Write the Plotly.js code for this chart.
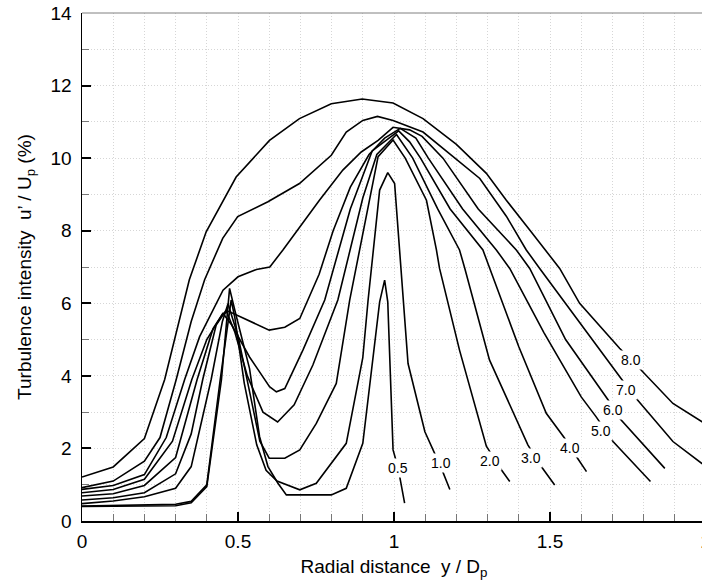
<!DOCTYPE html>
<html>
<head>
<meta charset="utf-8">
<script src="https://cdn.plot.ly/plotly-3.0.1.min.js"></script>
<style>
html,body{margin:0;padding:0;overflow:hidden;background:#fff;width:702px;height:582px;}
#chart{width:740px;height:582px;}
</style>
</head>
<body>
<div id="chart"></div>
<script>
// Curve labels (axial stations)
const curveLabels = ['0.5','1.0','2.0','3.0','4.0','5.0','6.0','7.0','8.0'];

// Curve 0.5
const x05 = [0,0.1,0.2,0.3,0.35,0.40,0.447,0.473,0.49,0.537,0.569,0.596,0.628,0.655,0.70,0.799,0.847,0.90,0.954,0.970,0.980,0.997,1.013,1.034];
const y05 = [0.40,0.41,0.41,0.42,0.50,0.95,3.9,6.41,5.8,4.2,2.33,1.5,1.04,0.72,0.72,0.72,0.9,2.14,6.04,6.64,6.04,1.96,1.47,0.49];
// Curve 1.0
const x10 = [0,0.1,0.2,0.3,0.35,0.40,0.443,0.478,0.49,0.52,0.56,0.59,0.625,0.664,0.698,0.751,0.847,0.90,0.917,0.954,0.98,1.002,1.029,1.045,1.099,1.13,1.152,1.179];
const y10 = [0.41,0.43,0.44,0.46,0.54,1.0,3.9,6.09,5.6,3.8,2.1,1.4,1.1,0.96,0.86,1.04,2.14,4.5,6.09,9.12,9.6,9.3,6.09,4.34,2.46,1.87,1.45,0.87];
// Curve 2.0
const x20 = [0,0.1,0.2,0.3,0.35,0.414,0.45,0.468,0.50,0.54,0.57,0.60,0.65,0.698,0.751,0.815,0.858,0.949,0.997,1.036,1.104,1.136,1.146,1.21,1.296,1.344,1.371];
const y20 = [0.48,0.55,0.67,0.9,1.5,3.9,5.5,5.99,5.1,3.4,2.2,1.73,1.73,1.96,2.69,3.79,6.09,10.04,10.5,10.0,8.84,7.47,6.96,4.71,2.06,1.41,1.09];
// Curve 3.0
const x30 = [0,0.1,0.2,0.3,0.35,0.387,0.43,0.462,0.49,0.53,0.58,0.627,0.68,0.74,0.82,0.90,0.945,1.008,1.06,1.14,1.21,1.227,1.306,1.429,1.472,1.515];
const y30 = [0.58,0.64,0.78,1.3,2.4,3.9,5.4,5.81,5.2,4.0,3.0,2.73,3.2,4.3,6.09,8.9,10.1,10.65,10.0,8.6,7.47,6.96,4.44,2.1,1.5,0.99];
// Curve 4.0
const x40 = [0,0.1,0.2,0.3,0.369,0.42,0.452,0.48,0.537,0.601,0.623,0.65,0.708,0.778,0.86,0.93,1.015,1.05,1.085,1.18,1.285,1.307,1.40,1.488,1.547,1.585,1.617];
const y40 = [0.69,0.75,0.98,1.75,3.9,5.3,5.72,5.4,4.52,3.7,3.56,3.65,4.71,6.09,8.6,10.2,10.75,10.45,10.0,8.6,7.47,6.96,4.8,2.97,2.28,1.77,1.36];
// Curve 5.0
const x50 = [0,0.1,0.2,0.29,0.352,0.40,0.45,0.47,0.60,0.65,0.698,0.76,0.805,0.86,0.92,0.97,1.02,1.07,1.11,1.22,1.328,1.371,1.48,1.60,1.648,1.702,1.822];
const y50 = [0.78,0.87,1.15,2.2,3.9,5.0,5.7,5.78,5.26,5.34,5.58,6.8,8.0,9.2,10.1,10.55,10.82,10.55,10.0,8.6,7.47,6.96,5.2,3.42,2.87,2.19,1.09];
// Curve 6.0
const x60 = [0,0.1,0.2,0.27,0.329,0.377,0.452,0.50,0.559,0.602,0.644,0.698,0.761,0.836,0.895,0.949,0.997,1.05,1.09,1.157,1.27,1.392,1.435,1.55,1.687,1.723,1.868];
const y60 = [0.87,0.98,1.28,2.3,3.9,5.08,6.36,6.73,6.93,7.0,7.47,8.1,8.84,9.67,10.17,10.49,10.85,10.78,10.6,10.0,8.6,7.47,6.96,5.0,3.33,2.83,1.45];
// Curve 7.0
const x70 = [0,0.1,0.2,0.25,0.302,0.35,0.393,0.451,0.499,0.596,0.697,0.799,0.847,0.90,0.947,0.997,1.093,1.194,1.275,1.36,1.424,1.467,1.60,1.723,1.771,1.894,1.986,2.0];
const y70 = [0.92,1.10,1.65,2.3,3.9,5.5,6.65,7.79,8.39,8.80,9.30,10.08,10.72,11.04,11.15,11.04,10.72,10.0,9.44,8.4,7.47,6.96,5.4,3.98,3.43,2.19,1.59,1.52];
// Curve 8.0
const x80 = [0,0.1,0.2,0.265,0.344,0.398,0.494,0.601,0.697,0.799,0.898,0.997,1.093,1.2,1.296,1.36,1.435,1.531,1.595,1.723,1.782,1.894,1.986,2.0];
const y80 = [1.21,1.49,2.27,3.9,6.65,7.97,9.48,10.49,11.09,11.50,11.63,11.52,11.09,10.38,9.58,8.84,8.02,6.96,6.0,4.76,4.25,3.24,2.74,2.68];

// Label anchor positions on each curve
const labelX = [1.013,1.152,1.307,1.44,1.563,1.662,1.702,1.745,1.761];
const labelY = [1.47,1.59,1.64,1.73,2.0,2.47,3.06,3.62,4.44];

// Axis ticks
const xTickVals = [0,0.5,1,1.5,2];
const xTickText = ['0','0.5','1','1.5','2'];
const yTickVals = [0,2,4,6,8,10,12,14];

const xs = [x05,x10,x20,x30,x40,x50,x60,x70,x80];
const ys = [y05,y10,y20,y30,y40,y50,y60,y70,y80];

const FONT = 'Liberation Sans, Arial, Helvetica, sans-serif';

const traces = xs.map((xv,i)=>({
  x: xv, y: ys[i], type:'scatter', mode:'lines',
  line:{color:'#000', width:1.6},
  hoverinfo:'skip', showlegend:false, name: curveLabels[i]
}));

const annotations = curveLabels.map((t,i)=>({
  x: labelX[i], y: labelY[i], xref:'x', yref:'y', text:t, showarrow:false,
  font:{family:FONT, size:14, color:'#000'}, bgcolor:'#ffffff', borderpad:1
}));

const gridCol = '#d6d6d6';
const gridDash = '1px,2px';

const layout = {
  width:740, height:582,
  margin:{l:82, r:34, t:13, b:61},
  paper_bgcolor:'#fff', plot_bgcolor:'#fff',
  font:{family:FONT, color:'#000'},
  xaxis:{
    range:[0,2], tickvals:xTickVals, ticktext:xTickText,
    ticks:'inside', ticklen:9, tickwidth:2, tickcolor:'#000',
    showline:true, linecolor:'#000', linewidth:1.5, zeroline:false,
    showgrid:true, gridcolor:gridCol, griddash:gridDash, gridwidth:1,
    tickfont:{family:FONT, size:19, color:'#000'},
    ticklabelstandoff:3,
    minor:{dtick:0.1, ticks:'inside', ticklen:7, tickwidth:1, tickcolor:'#777',
           showgrid:true, gridcolor:gridCol, griddash:gridDash, gridwidth:1},
    title:{text:'Radial distance  y / D<sub>p</sub>', font:{family:FONT, size:19, color:'#000'}, standoff:8},
    automargin:false
  },
  yaxis:{
    range:[0,14], tickvals:yTickVals,
    ticks:'inside', ticklen:9, tickwidth:2, tickcolor:'#000',
    showline:true, linecolor:'#000', linewidth:1.5, zeroline:false,
    showgrid:true, gridcolor:gridCol, griddash:gridDash, gridwidth:1,
    tickfont:{family:FONT, size:19, color:'#000'},
    ticklabelstandoff:5,
    minor:{dtick:1, ticks:'inside', ticklen:7, tickwidth:1, tickcolor:'#777',
           showgrid:true, gridcolor:gridCol, griddash:gridDash, gridwidth:1},
    title:{text:'Turbulence intensity  u’ / U<sub>p</sub> (%)', font:{family:FONT, size:19, color:'#000'}, standoff:14},
    automargin:false
  },
  shapes:[{type:'line', xref:'paper', yref:'paper', x0:0, x1:1, y0:1, y1:1, line:{color:'#808080', width:1}}],
  annotations: annotations
};

Plotly.newPlot('chart', traces, layout, {staticPlot:true, displayModeBar:false});
</script>
</body>
</html>
